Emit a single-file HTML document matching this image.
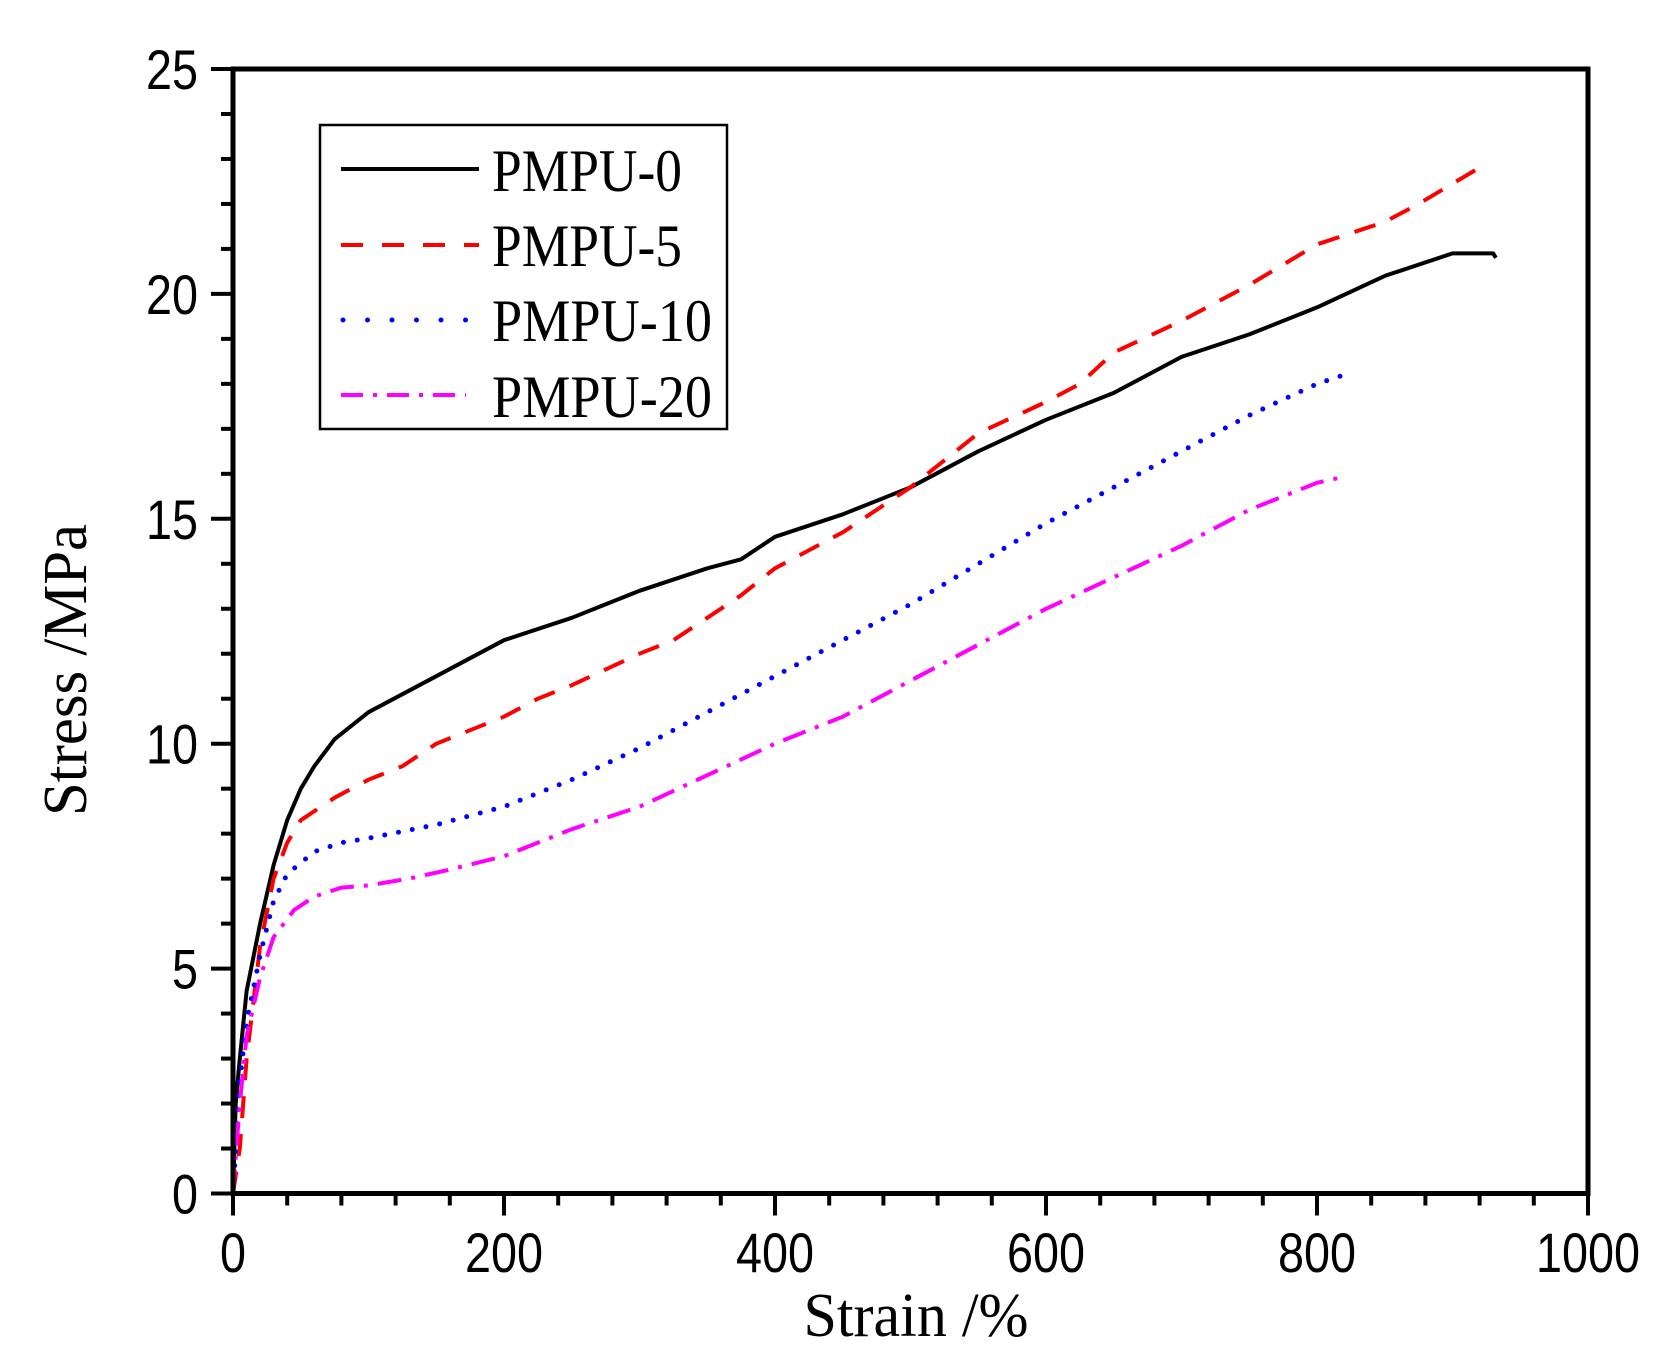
<!DOCTYPE html>
<html><head><meta charset="utf-8"><style>html,body{margin:0;padding:0;background:#fff}svg{display:block}</style></head>
<body>
<svg id="s" width="1672" height="1364" viewBox="0 0 1672 1364" xmlns="http://www.w3.org/2000/svg">
<rect width="1672" height="1364" fill="#fff"/>
<g id="ticks" stroke="#000" stroke-width="4"></g>
<g id="series" fill="none" stroke-width="4" stroke-linejoin="round"></g>
<rect x="233" y="69" width="1355" height="1124.5" fill="none" stroke="#000" stroke-width="5"/>
<g font-family="Liberation Sans, sans-serif" font-size="56" fill="#000" id="lbl"></g>
<text x="0" y="0" transform="translate(86,670) rotate(-90)" font-family="Liberation Serif, serif" font-size="62" text-anchor="middle" textLength="292" lengthAdjust="spacingAndGlyphs">Stress /MPa</text>
<text x="916" y="1336" font-family="Liberation Serif, serif" font-size="62" text-anchor="middle" textLength="225" lengthAdjust="spacingAndGlyphs">Strain /%</text>
<rect x="320" y="125" width="407" height="304" fill="#fff" stroke="#000" stroke-width="2.5"/>
<g stroke-width="4">
<line x1="341" y1="169" x2="479" y2="169" stroke="#000"/>
<line x1="341" y1="245" x2="479" y2="245" stroke="#f00" stroke-dasharray="22 19"/>
<line x1="343" y1="320" x2="468" y2="320" stroke="#00f" stroke-dasharray="0 24.5" stroke-linecap="round" stroke-width="5"/>
<line x1="341" y1="395" x2="466" y2="395" stroke="#f0f" stroke-dasharray="22 10 4 10"/>
</g>
<g font-family="Liberation Serif, serif" font-size="60" fill="#000">
<text x="492" y="191" textLength="190" lengthAdjust="spacingAndGlyphs">PMPU-0</text>
<text x="492" y="266" textLength="190" lengthAdjust="spacingAndGlyphs">PMPU-5</text>
<text x="492" y="341" textLength="220" lengthAdjust="spacingAndGlyphs">PMPU-10</text>
<text x="492" y="417" textLength="220" lengthAdjust="spacingAndGlyphs">PMPU-20</text>
</g>
</svg>
<script>
var NS="http://www.w3.org/2000/svg";
function px(x){return 233+1.355*x}
function py(y){return 1193.5-44.98*y}
function el(t,a,p){var e=document.createElementNS(NS,t);for(var k in a)e.setAttribute(k,a[k]);p.appendChild(e);return e}
var tg=document.getElementById('ticks'),lg=document.getElementById('lbl');
for(var y=0;y<=25;y++){var maj=y%5==0;el('line',{x1:233,x2:233-(maj?22:12),y1:py(y),y2:py(y)},tg);
 if(maj){var t=el('text',{x:198,y:py(y)+20,'text-anchor':'end',textLength:y>=10?52:26,lengthAdjust:'spacingAndGlyphs'},lg);t.textContent=y;}}
for(var x=0;x<=1000;x+=40){var maj=x%200==0;el('line',{x1:px(x),x2:px(x),y1:1193.5,y2:1193.5+(maj?22:12)},tg);
 if(maj){var w=String(x).length*26;var t=el('text',{x:px(x),y:1272,'text-anchor':'middle',textLength:w,lengthAdjust:'spacingAndGlyphs'},lg);t.textContent=x;}}
var S=[
["#000","",[[0,0],[2,2],[5,3],[10,4.5],[20,6],[30,7.3],[40,8.3],[50,9],[60,9.5],[75,10.1],[100,10.7],[125,11.1],[150,11.5],[175,11.9],[200,12.3],[250,12.8],[300,13.4],[350,13.9],[375,14.1],[400,14.6],[450,15.1],[500,15.7],[550,16.5],[600,17.2],[650,17.8],[700,18.6],[750,19.1],[800,19.7],[850,20.4],[900,20.9],[930,20.9],[932,20.8]]],
["#f00","22 16",[[0,0],[5,1],[10,3],[20,5.5],[30,7],[40,7.8],[50,8.3],[75,8.8],[100,9.2],[125,9.5],[150,10],[175,10.3],[200,10.6],[225,11],[250,11.3],[300,12],[325,12.3],[350,12.8],[375,13.3],[400,13.9],[450,14.7],[500,15.7],[550,16.9],[600,17.6],[625,18],[650,18.7],[700,19.4],[750,20.2],[800,21.1],[850,21.6],[875,22],[925,22.9]]],
["#00f","0 14",[[0,0],[5,2.5],[10,3.8],[20,5.3],[30,6.5],[40,7.1],[60,7.6],[80,7.8],[100,7.9],[150,8.2],[200,8.6],[250,9.2],[300,9.9],[350,10.7],[400,11.5],[450,12.3],[500,13.1],[550,14],[600,14.9],[650,15.7],[700,16.5],[750,17.3],[800,18],[820,18.2]]],
["#f0f","24 10 4 10",[[0,0],[5,2],[10,3.5],[20,4.8],[30,5.7],[45,6.3],[60,6.6],[80,6.8],[100,6.85],[130,7],[160,7.2],[200,7.5],[250,8.1],[300,8.6],[350,9.3],[400,10],[450,10.6],[500,11.4],[550,12.2],[600,13],[650,13.7],[700,14.4],[750,15.2],[800,15.8],[815,15.9]]]];
var sg=document.getElementById('series');
S.forEach(function(s){var d=s[2].map(function(p,i){return (i?'L':'M')+px(p[0]).toFixed(1)+' '+py(p[1]).toFixed(1)}).join(' ');
 var a={d:d,stroke:s[0]};if(s[1]){a['stroke-dasharray']=s[1];}if(s[0]=="#00f"){a['stroke-linecap']='round';a['stroke-width']=5;}el('path',a,sg);});
</script>
</body></html>
